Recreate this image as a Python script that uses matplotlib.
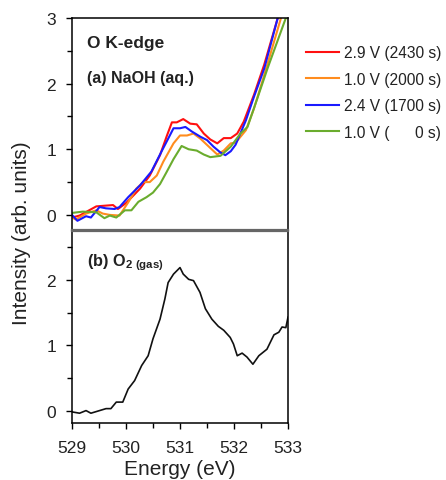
import matplotlib.pyplot as plt
import numpy as np
from matplotlib.ticker import MultipleLocator

plt.rcParams['font.family'] = ['Liberation Sans', 'DejaVu Sans']
plt.rcParams['mathtext.fontset'] = 'custom'
plt.rcParams['mathtext.rm'] = 'Liberation Sans'
plt.rcParams['mathtext.bf'] = 'Liberation Sans:bold'

# (a) NaOH (aq.) spectra
e_red = [529.0, 529.14, 529.45, 529.76, 529.85, 530.0, 530.26, 530.44, 530.63, 530.75,
         530.85, 530.94, 531.06, 531.19, 531.31, 531.44, 531.56, 531.69, 531.81, 531.94,
         532.06, 532.18, 532.37, 532.56, 532.81, 532.9]
i_red = [-0.04, -0.01, 0.13, 0.15, 0.09, 0.18, 0.40, 0.60, 0.91, 1.19,
         1.41, 1.41, 1.46, 1.39, 1.38, 1.24, 1.15, 1.09, 1.17, 1.17,
         1.24, 1.42, 1.83, 2.29, 3.0, 3.3]

e_orange = [529.0, 529.07, 529.26, 529.45, 529.57, 529.7, 529.88, 530.04, 530.19, 530.32,
            530.44, 530.57, 530.69, 530.88, 531.0, 531.13, 531.25, 531.38, 531.56, 531.69,
            531.81, 531.94, 532.03, 532.22, 532.37, 532.56, 532.87, 532.95]
i_orange = [-0.04, -0.07, 0.02, 0.07, 0.02, 0.0, -0.01, 0.19, 0.40, 0.50,
            0.50, 0.60, 0.81, 1.09, 1.21, 1.21, 1.24, 1.16, 1.02, 0.92,
            0.98, 1.09, 1.10, 1.29, 1.62, 2.13, 3.0, 3.3]

e_blue = [529.0, 529.1, 529.26, 529.35, 529.51, 529.63, 529.79, 529.88, 530.04, 530.26,
          530.47, 530.66, 530.78, 530.88, 531.0, 531.1, 531.22, 531.38, 531.5, 531.62,
          531.75, 531.84, 531.94, 532.03, 532.22, 532.37, 532.56, 532.81, 532.9]
i_blue = [0.0, -0.09, -0.02, -0.04, 0.12, 0.10, 0.09, 0.12, 0.27, 0.45,
          0.66, 0.97, 1.16, 1.32, 1.32, 1.34, 1.27, 1.19, 1.14, 1.04,
          0.95, 0.91, 0.97, 1.07, 1.44, 1.80, 2.23, 3.0, 3.3]

e_green = [529.0, 529.2, 529.45, 529.6, 529.7, 529.82, 529.98, 530.1, 530.23, 530.38,
           530.5, 530.63, 530.75, 530.88, 531.03, 531.16, 531.31, 531.44, 531.56, 531.75,
           531.94, 532.12, 532.25, 532.43, 532.62, 532.96, 533.0]
i_green = [0.03, 0.05, 0.04, -0.05, -0.01, -0.04, 0.07, 0.07, 0.20, 0.27,
           0.34, 0.47, 0.65, 0.85, 1.05, 1.00, 0.98, 0.92, 0.88, 0.90,
           1.04, 1.24, 1.34, 1.77, 2.23, 3.0, 3.1]

# (b) O2 (gas)
e_o2 = [529.0, 529.14, 529.26, 529.35, 529.51, 529.63, 529.72, 529.82, 529.94, 530.04,
        530.16, 530.29, 530.41, 530.5, 530.63, 530.72, 530.78, 530.88, 531.0, 531.06,
        531.16, 531.25, 531.37, 531.47, 531.59, 531.71, 531.81, 531.93, 531.99, 532.06,
        532.15, 532.24, 532.35, 532.46, 532.61, 532.74, 532.83, 532.89, 532.96, 533.0]
i_o2 = [-0.02, -0.04, 0.0, -0.04, 0.0, 0.03, 0.03, 0.13, 0.13, 0.33,
        0.46, 0.69, 0.84, 1.10, 1.40, 1.71, 1.96, 2.09, 2.19, 2.09,
        2.01, 1.99, 1.81, 1.56, 1.40, 1.29, 1.23, 1.12, 1.02, 0.84,
        0.88, 0.82, 0.71, 0.84, 0.94, 1.16, 1.20, 1.28, 1.27, 1.43]

labels = ['2.9 V (2430 s)', '1.0 V (2000 s)', '2.4 V (1700 s)', '1.0 V (      0 s)']
colors = ['#ff1010', '#ff8c1e', '#1a1aff', '#6aac2e']

fig = plt.figure(figsize=(4.46, 4.81), dpi=100)
ax1 = fig.add_axes([72/446, 1-231/481, 216/446, 212/481])
ax2 = fig.add_axes([72/446, 1-424/481, 216/446, 192/481])

series = [(e_red, i_red), (e_orange, i_orange), (e_blue, i_blue), (e_green, i_green)]
for (e, i), c, lab in zip(series, colors, labels):
    ax1.plot(e, i, color=c, lw=1.5, label=lab)

ax2.plot(e_o2, i_o2, color='#111111', lw=1.2)

ax1.set_xlim(529, 533)
ax1.set_ylim(-0.23, 3.0)
ax2.set_xlim(529, 533)
ax2.set_ylim(-0.19, 2.75)

for ax in (ax1, ax2):
    ax.yaxis.set_major_locator(MultipleLocator(1))
    ax.yaxis.set_minor_locator(MultipleLocator(0.5))
    ax.xaxis.set_major_locator(MultipleLocator(1))
    ax.xaxis.set_minor_locator(MultipleLocator(0.5))
    ax.tick_params(which='major', direction='out', length=4.5, width=1.0,
                   labelsize=12.5, labelcolor='#222222', top=False, right=False)
    ax.tick_params(which='minor', direction='out', length=3.5, width=1.0,
                   top=False, right=False)
    ax.tick_params(axis='y', which='major', pad=7)
    ax.tick_params(axis='x', which='major', pad=8)
    for s in ax.spines.values():
        s.set_linewidth(1.1)

ax1.tick_params(axis='x', which='both', bottom=False, labelbottom=False)
ax1.spines['bottom'].set_color('#666666')
ax1.spines['bottom'].set_linewidth(1.6)
ax2.spines['top'].set_color('#666666')
ax2.spines['top'].set_linewidth(1.6)

ax2.set_xlabel('Energy (eV)', fontsize=15, color='#222222', labelpad=2.5)
fig.text(22/446, 1-233/481, 'Intensity (arb. units)', rotation=90, fontsize=15,
         color='#222222', ha='center', va='center')

ax1.text(0.07, 0.885, 'O K-edge', transform=ax1.transAxes, fontsize=12.5,
         fontweight='bold', color='#222222', va='center')
ax1.text(0.07, 0.72, '(a) NaOH (aq.)', transform=ax1.transAxes, fontsize=11.5,
         fontweight='bold', color='#222222', va='center')
ax2.text(0.07, 0.84, r'(b) O$_{\mathbf{2\ (gas)}}$', transform=ax2.transAxes,
         fontsize=11.7, fontweight='bold', color='#222222', va='center')

fig.legend(loc='upper left', bbox_to_anchor=(306/446, 1-46/481), frameon=False,
           fontsize=11.2, handlelength=2.1, handletextpad=0.35, labelspacing=0.74,
           borderpad=0, borderaxespad=0, labelcolor='#222222')

plt.savefig('out.png', dpi=100)
